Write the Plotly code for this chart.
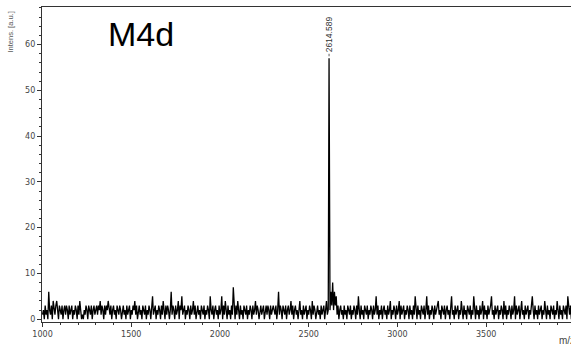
import numpy as np
import plotly.graph_objects as go

# ---- data ----
noise_start = 1000.0
noise_step = 5.0
noise_1000_1500 = [1, 2, 0, 3, 1, 2, 0, 6, 2, 1, 3, 0, 4, 2, 1, 3, 4, 2, 0, 3,
                   2, 1, 3, 0, 2, 3, 1, 3, 2, 0, 3, 1, 2, 3, 0, 2, 1, 3, 2, 0,
                   3, 1, 4, 2, 0, 1, 0, 2, 1, 3, 2, 0, 3, 2, 1, 3, 0, 2, 3, 1,
                   2, 3, 1, 3, 2, 4, 1, 3, 2, 0, 3, 1, 3, 2, 4, 2, 1, 3, 0, 2,
                   3, 1, 2, 0, 3, 2, 1, 3, 2, 0, 2, 3, 1, 2, 0, 3, 1, 2, 3, 0]
noise_1500_2000 = [2, 1, 3, 2, 4, 1, 3, 0, 2, 3, 1, 2, 0, 3, 2, 1, 3, 0, 2, 1,
                   3, 2, 0, 3, 5, 1, 2, 3, 0, 2, 1, 3, 2, 0, 3, 1, 4, 2, 0, 3,
                   1, 3, 2, 0, 2, 6, 1, 3, 2, 0, 3, 1, 2, 4, 0, 3, 2, 5, 1, 2,
                   3, 0, 2, 1, 3, 2, 0, 3, 1, 2, 4, 1, 3, 0, 2, 3, 1, 2, 0, 3,
                   2, 1, 3, 0, 2, 1, 3, 2, 0, 5, 2, 1, 3, 0, 2, 3, 1, 2, 0, 3]
noise_2000_2500 = [1, 2, 5, 0, 3, 1, 4, 2, 0, 3, 1, 2, 0, 3, 1, 7, 2, 0, 3, 1,
                   4, 2, 0, 3, 1, 2, 0, 3, 2, 1, 3, 0, 2, 1, 3, 2, 0, 3, 1, 2,
                   4, 1, 3, 2, 0, 2, 3, 1, 2, 3, 0, 2, 3, 1, 3, 2, 0, 3, 1, 2,
                   3, 2, 1, 3, 0, 2, 6, 1, 3, 2, 0, 3, 2, 1, 3, 0, 2, 3, 1, 2,
                   4, 1, 3, 0, 2, 3, 1, 2, 0, 3, 4, 1, 2, 0, 3, 1, 2, 3, 0, 2]
noise_2500_3000 = [1, 3, 2, 0, 4, 1, 3, 2, 0, 2, 3, 1, 2, 0, 3, 1, 2, 3, 0, 2,
                   4, 1, 2, 3, 2, 6, 3, 8, 2, 6, 3, 5, 1, 3, 0, 2, 3, 1, 2, 0,
                   3, 1, 2, 0, 3, 2, 1, 3, 0, 2, 1, 3, 2, 0, 3, 1, 5, 2, 0, 3,
                   1, 2, 0, 3, 2, 1, 3, 0, 2, 1, 3, 2, 0, 3, 1, 2, 5, 1, 3, 0,
                   2, 1, 3, 0, 2, 3, 1, 2, 0, 3, 1, 2, 4, 0, 2, 1, 3, 2, 0, 3]
noise_3000_3500 = [1, 2, 4, 0, 3, 1, 2, 3, 0, 2, 1, 3, 2, 0, 3, 1, 2, 0, 3, 1,
                   5, 2, 0, 3, 1, 2, 0, 3, 2, 1, 3, 0, 2, 5, 1, 3, 0, 2, 1, 3,
                   2, 0, 3, 1, 2, 3, 4, 1, 2, 0, 3, 2, 1, 3, 0, 2, 3, 1, 2, 0,
                   3, 5, 1, 2, 0, 3, 1, 2, 3, 0, 2, 1, 4, 2, 0, 3, 1, 2, 0, 3,
                   2, 1, 3, 0, 2, 1, 5, 2, 0, 3, 1, 2, 0, 3, 1, 2, 4, 0, 3, 1]
noise_3500_4000 = [2, 0, 3, 1, 2, 3, 5, 1, 2, 0, 3, 1, 2, 3, 0, 2, 1, 3, 2, 0,
                   4, 1, 3, 0, 2, 1, 3, 2, 0, 3, 1, 2, 5, 0, 3, 1, 2, 3, 0, 2,
                   4, 1, 2, 0, 3, 1, 2, 3, 0, 2, 1, 3, 5, 2, 0, 3, 1, 2, 0, 3,
                   1, 2, 3, 0, 2, 1, 4, 2, 0, 3, 1, 2, 0, 3, 2, 1, 3, 0, 2, 1,
                   4, 2, 0, 3, 1, 2, 0, 3, 2, 1, 3, 0, 5, 2, 1, 3, 0, 2, 1, 3]

peak_mz = [2614.589]
peak_intensity = [57]
peak_label = ["2614.589"]
sample_name = "M4d"

# ---- assemble spectrum ----
noise = (noise_1000_1500 + noise_1500_2000 + noise_2000_2500 +
         noise_2500_3000 + noise_3000_3500 + noise_3500_4000)
noise_mz = noise_start + noise_step * np.arange(len(noise))
noise_int = np.array(noise, dtype=float)
keep = np.abs(noise_mz - peak_mz[0]) > 3
mz = np.concatenate([noise_mz[keep], np.array(peak_mz)])
inten = np.concatenate([noise_int[keep], np.array(peak_intensity, dtype=float)])
order = np.argsort(mz)
mz, inten = mz[order], inten[order]

fig = go.Figure()
fig.add_trace(go.Scatter(x=mz, y=inten, mode="lines",
                         line=dict(color="black", width=1.3), hoverinfo="skip",
                         showlegend=False))

axis_col = "#333333"
tick_font = dict(family="DejaVu Sans", size=8, color="#444444")

fig.update_layout(
    width=571, height=345, autosize=False,
    margin=dict(l=42, r=0, t=7, b=23, pad=0),
    paper_bgcolor="white", plot_bgcolor="white",
    xaxis=dict(range=[997, 3978], showgrid=False, zeroline=False,
               showline=True, linecolor=axis_col, linewidth=1.2, mirror=True,
               ticks="outside", ticklen=4, tickcolor=axis_col, tickwidth=1,
               tickmode="linear", tick0=1000, dtick=500,
               minor=dict(ticks="outside", ticklen=2, dtick=100, tick0=1000,
                          tickcolor=axis_col, showgrid=False),
               tickfont=tick_font),
    yaxis=dict(range=[-0.6, 68.2], showgrid=False, zeroline=False,
               showline=True, linecolor=axis_col, linewidth=1.2,
               ticks="outside", ticklen=4, tickcolor=axis_col, tickwidth=1,
               tickmode="linear", tick0=0, dtick=10,
               minor=dict(ticks="outside", ticklen=2, dtick=2, tick0=0,
                          tickcolor=axis_col, showgrid=False),
               tickfont=tick_font),
)

# peak label
fig.add_annotation(x=peak_mz[0], y=peak_intensity[0], text=peak_label[0],
                   textangle=-90, showarrow=True, arrowhead=0, arrowwidth=0.8,
                   arrowcolor="#333333", ax=0, ay=-24, standoff=2,
                   font=dict(family="Liberation Sans", size=8.5, color="#333333"))

# sample name
fig.add_annotation(xref="paper", yref="paper", x=(106 - 42) / 529, y=1 - (33.5 - 7) / 315,
                   xanchor="left", yanchor="middle", text=sample_name, showarrow=False,
                   font=dict(family="Liberation Sans", size=34, color="black"))

# y axis title
fig.add_annotation(xref="paper", yref="paper", x=(10.5 - 42) / 529, y=1 - (32 - 7) / 315,
                   xanchor="center", yanchor="middle", text="Intens. [a.u.]",
                   textangle=-90, showarrow=False,
                   font=dict(family="Liberation Sans", size=7.5, color="#555555"))

# x axis title (cut at the right edge, as in the source)
fig.add_annotation(xref="paper", yref="paper", x=(557 - 42) / 529, y=-(340 - 322) / 315,
                   xanchor="left", yanchor="middle", text="m/z", showarrow=False,
                   font=dict(family="Liberation Sans", size=10, color="#444444"))

fig.write_html("out.html", config={"displayModeBar": False},
               post_script="document.body.style.margin='0';document.body.style.overflow='hidden';")
